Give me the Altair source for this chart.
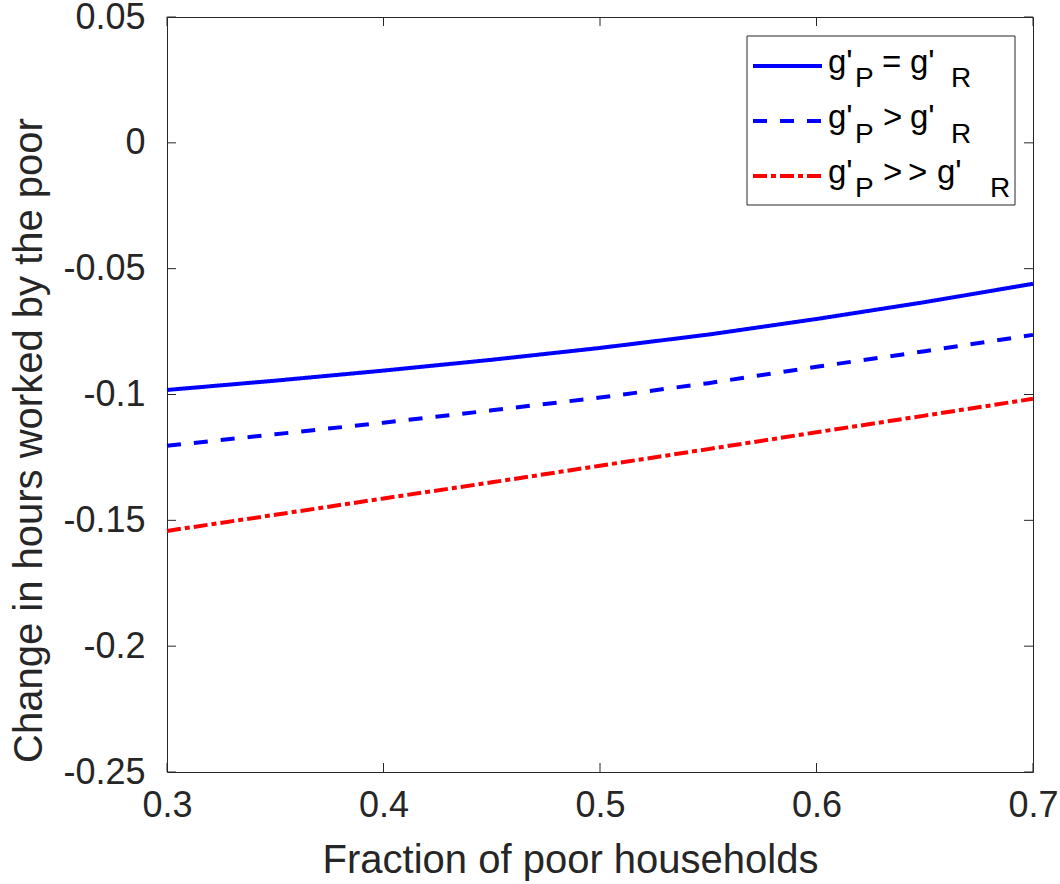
import altair as alt
import pandas as pd

# ---- data ----
x_vals = [0.30, 0.35, 0.40, 0.45, 0.50, 0.55, 0.60, 0.65, 0.70]
equal_vals = [-0.0982, -0.0945, -0.0905, -0.0862, -0.0815, -0.0762, -0.0700, -0.0633, -0.0560]
greater_vals = [-0.1204, -0.1158, -0.1112, -0.1063, -0.1012, -0.0955, -0.0890, -0.0828, -0.0763]
much_greater_vals = [-0.1542, -0.1478, -0.1413, -0.1349, -0.1283, -0.1217, -0.1150, -0.1084, -0.1017]
series_names = ["g'P = g'R", "g'P > g'R", "g'P >> g'R"]
series_colors = ["#0000FF", "#0000FF", "#FF0000"]
series_dashes = [[1, 0], [14, 13], [14, 4, 5, 4]]
x_ticks = [0.3, 0.4, 0.5, 0.6, 0.7]
y_ticks = [0.05, 0, -0.05, -0.1, -0.15, -0.2, -0.25]

rows = []
for name, vals in zip(series_names, [equal_vals, greater_vals, much_greater_vals]):
    for xv, yv in zip(x_vals, vals):
        rows.append({"frac": xv, "change": yv, "series": name})
df = pd.DataFrame(rows)

W, H = 866, 755
FONT = "Liberation Sans"
AXC = "#262626"
TICK = 9

xscale = alt.Scale(domain=[0.3, 0.7], nice=False, zero=False)
yscale = alt.Scale(domain=[-0.25, 0.05], nice=False, zero=False)
cscale = alt.Scale(domain=series_names, range=series_colors)
dscale = alt.Scale(domain=series_names, range=series_dashes)

lines = alt.Chart(df).mark_line(strokeWidth=4, strokeCap="butt").encode(
    x=alt.X("frac:Q", scale=xscale, axis=alt.Axis(
        values=x_ticks, labelExpr="format(datum.value, '.1f')",
        labelPadding=16, labelFlush=False, labelOverlap=False, labelBound=False,
        title="Fraction of poor households",
        titleX=403, titleY=100, titleBaseline="alphabetic", titleAlign="center")),
    y=alt.Y("change:Q", scale=yscale, axis=alt.Axis(
        values=y_ticks,
        labelExpr="replace(format(datum.value, '.2~f'), '\u2212', '-')",
        labelPadding=22, labelFlush=False, labelOverlap=False, labelBound=False,
        title="Change in hours worked by the poor",
        titleAngle=270, titleX=-126, titleY=423,
        titleBaseline="alphabetic", titleAlign="center")),
    color=alt.Color("series:N", scale=cscale, legend=None),
    strokeDash=alt.StrokeDash("series:N", scale=dscale, legend=None),
    order=alt.Order("frac:Q"),
)

xt = pd.DataFrame({"frac": x_ticks})
yt = pd.DataFrame({"change": y_ticks})
tick_style = dict(color=AXC, strokeWidth=1)
ticks_bottom = alt.Chart(xt).mark_rule(**tick_style).encode(
    x=alt.X("frac:Q"), y=alt.value(H), y2=alt.value(H - TICK))
ticks_top = alt.Chart(xt).mark_rule(**tick_style).encode(
    x=alt.X("frac:Q"), y=alt.value(0), y2=alt.value(TICK))
ticks_left = alt.Chart(yt).mark_rule(**tick_style).encode(
    y=alt.Y("change:Q"), x=alt.value(0), x2=alt.value(TICK))
ticks_right = alt.Chart(yt).mark_rule(**tick_style).encode(
    y=alt.Y("change:Q"), x=alt.value(W), x2=alt.value(W - TICK))

# ---- legend (drawn manually to allow subscripts) ----
one = pd.DataFrame({"a": [0]})
legend_layers = [
    alt.Chart(one).mark_rect(fill="white", stroke=AXC, strokeWidth=1).encode(
        x=alt.value(580), x2=alt.value(848), y=alt.value(19), y2=alt.value(188))
]
legend_rows_y = [49, 104, 159]
for name, col, dash, ly in zip(series_names, series_colors, series_dashes, legend_rows_y):
    legend_layers.append(
        alt.Chart(one).mark_rule(color=col, strokeDash=dash, strokeWidth=4, strokeCap="butt").encode(
            x=alt.value(586), x2=alt.value(655), y=alt.value(ly)))

main_txt = [("g'", 661, 56), ("=", 715, 56), ("g'", 743, 56),
            ("g'", 661, 111), (">", 716, 111), ("g'", 743, 111),
            ("g'", 661, 166), (">", 716, 166), (">", 741, 166), ("g'", 770, 166)]
sub_txt = [("P", 688, 70), ("R", 784, 70), ("P", 688, 126), ("R", 784, 126),
           ("P", 688, 180), ("R", 823, 180)]
for s, px, py in main_txt:
    legend_layers.append(alt.Chart(one).mark_text(
        text=s, font=FONT, fontSize=33, align="left", baseline="alphabetic", color="#000000").encode(
        x=alt.value(px), y=alt.value(py)))
for s, px, py in sub_txt:
    legend_layers.append(alt.Chart(one).mark_text(
        text=s, font=FONT, fontSize=28, align="left", baseline="alphabetic", color="#000000").encode(
        x=alt.value(px), y=alt.value(py)))

chart = alt.layer(
    lines, ticks_bottom, ticks_top, ticks_left, ticks_right, *legend_layers
).properties(
    width=W, height=H,
    autosize=alt.AutoSizeParams(type="none"),
    padding={"left": 167, "top": 17, "right": 27, "bottom": 112},
    background="white",
).configure_view(
    stroke=AXC, strokeWidth=1
).configure_axis(
    labelFont=FONT, labelFontSize=36, labelColor=AXC,
    titleFont=FONT, titleFontSize=40, titleColor=AXC, titleFontWeight="normal",
    grid=False, domain=False, ticks=False, tickSize=0,
)

chart.save("out.html", embed_options={"renderer": "svg", "actions": False})
